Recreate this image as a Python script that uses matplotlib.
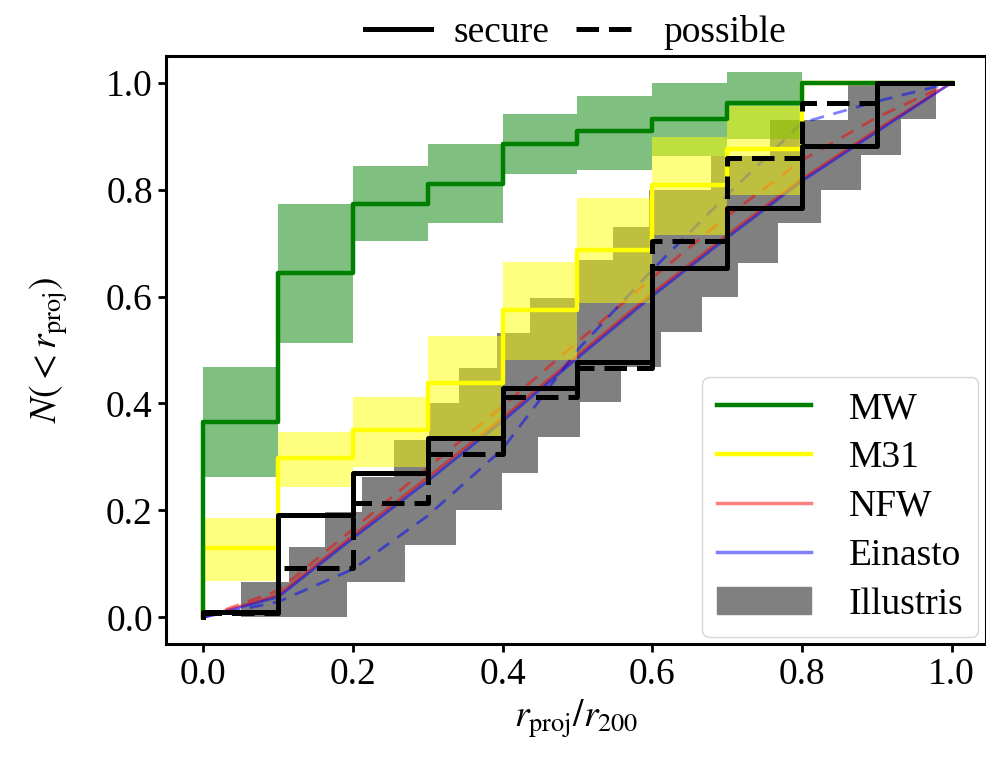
import numpy as np
import matplotlib
matplotlib.use("Agg")
import matplotlib.pyplot as plt
from matplotlib.lines import Line2D
from matplotlib.patches import Patch

plt.rcParams['font.family'] = ['Liberation Serif', 'DejaVu Serif']
plt.rcParams['mathtext.fontset'] = 'stix'

# ---- data ----
bin_edges = [0.0, 0.1, 0.2, 0.3, 0.4, 0.5, 0.6, 0.7, 0.8, 0.9, 1.0]

mw_vals = [0.365, 0.644, 0.773, 0.811, 0.886, 0.910, 0.933, 0.962, 1.0, 1.0]
mw_lo = [0.262, 0.513, 0.704, 0.738, 0.830, 0.836, 0.862, 0.895, 1.0, 1.0]
mw_hi = [0.468, 0.773, 0.845, 0.886, 0.941, 0.976, 1.0, 1.021, 1.0, 1.0]

m31_vals = [0.129, 0.298, 0.350, 0.438, 0.575, 0.687, 0.808, 0.876, 1.0, 1.0]
m31_lo = [0.068, 0.244, 0.281, 0.340, 0.481, 0.588, 0.715, 0.790, 1.0, 1.0]
m31_hi = [0.185, 0.347, 0.413, 0.527, 0.665, 0.784, 0.899, 0.956, 1.0, 1.0]

secure_vals = [0.010, 0.191, 0.269, 0.335, 0.428, 0.478, 0.653, 0.766, 0.881, 1.0]
possible_vals = [0.008, 0.092, 0.213, 0.306, 0.413, 0.466, 0.703, 0.859, 0.962, 1.0]

model_x = [0.0, 0.1, 0.2, 0.3, 0.4, 0.5, 0.6, 0.7, 0.8, 0.9, 1.0]
nfw_secure = [0.0, 0.042, 0.153, 0.262, 0.373, 0.490, 0.606, 0.715, 0.820, 0.912, 1.0]
ein_secure = [0.0, 0.038, 0.148, 0.255, 0.367, 0.485, 0.601, 0.710, 0.816, 0.908, 1.0]
nfw_possible = [0.0, 0.05, 0.165, 0.28, 0.395, 0.515, 0.635, 0.75, 0.855, 0.935, 1.0]
ein_possible = [0.0, 0.029, 0.09, 0.19, 0.315, 0.50, 0.65, 0.79, 0.925, 0.965, 1.0]

illus_up_x = [0.0, 0.05, 0.115, 0.163, 0.212, 0.255, 0.301, 0.341, 0.392, 0.437,
              0.499, 0.548, 0.595, 0.679, 0.757, 0.861]
illus_up_y = [0.0, 0.066, 0.131, 0.197, 0.263, 0.331, 0.400, 0.466, 0.532, 0.597,
              0.668, 0.731, 0.800, 0.862, 0.930, 1.0]
illus_lo_x = [0.0, 0.192, 0.270, 0.337, 0.399, 0.447, 0.503, 0.558, 0.612, 0.666,
              0.715, 0.768, 0.826, 0.879, 0.932, 0.979]
illus_lo_y = [0.0, 0.066, 0.135, 0.200, 0.269, 0.338, 0.403, 0.469, 0.534, 0.600,
              0.663, 0.738, 0.800, 0.865, 0.933, 1.0]

# ---- figure ----
fig = plt.figure(figsize=(9.87, 7.72), dpi=100)
ax = fig.add_axes([166/987, 1 - 644/772, (986-166)/987, (644-56)/772])

fs = 27
dash_black = (0, (4.5, 2.0))
dash_model = (0, (5, 3.5))

# Illustris band
grid = np.unique(np.r_[illus_up_x, illus_lo_x, 1.0])
up = np.asarray(illus_up_y)[np.searchsorted(illus_up_x, grid, side='right') - 1]
lo = np.asarray(illus_lo_y)[np.searchsorted(illus_lo_x, grid, side='right') - 1]
ax.fill_between(grid, lo, up, step='post', color='grey', lw=0, zorder=1)

# model curves
ax.plot(model_x, nfw_secure, color='red', alpha=0.5, lw=2.0, zorder=2)
ax.plot(model_x, ein_secure, color='blue', alpha=0.5, lw=2.0, zorder=2)
ax.plot(model_x, nfw_possible, color='red', alpha=0.5, lw=2.0, ls=dash_model, zorder=2)
ax.plot(model_x, ein_possible, color='blue', alpha=0.5, lw=2.0, ls=dash_model, zorder=2)

# MW / M31 bands
def ext(v):
    return np.r_[v, v[-1]]

ax.fill_between(bin_edges, ext(mw_lo), ext(mw_hi), step='post', color='green', alpha=0.5, lw=0, zorder=3)
ax.fill_between(bin_edges, ext(m31_lo), ext(m31_hi), step='post', color='yellow', alpha=0.5, lw=0, zorder=3)

def step_xy(v):
    return np.r_[0.0, bin_edges], np.r_[0.0, v, v[-1]]

x, y = step_xy(m31_vals)
ax.step(x, y, where='post', color='yellow', lw=3.2, zorder=4)
x, y = step_xy(mw_vals)
ax.step(x, y, where='post', color='green', lw=3.2, zorder=4)
x, y = step_xy(possible_vals)
ax.step(x, y, where='post', color='black', lw=3.6, ls=dash_black, zorder=5)
x, y = step_xy(secure_vals)
ax.step(x, y, where='post', color='black', lw=3.6, zorder=5)

ax.set_xlim(-0.05, 1.046)
ax.set_ylim(-0.05, 1.05)
ax.set_xticks([0.0, 0.2, 0.4, 0.6, 0.8, 1.0])
ax.set_yticks([0.0, 0.2, 0.4, 0.6, 0.8, 1.0])
ax.tick_params(labelsize=fs, width=2, length=6)
for s in ax.spines.values():
    s.set_linewidth(2.2)
ax.set_xlabel(r'$r_{\rm proj}/r_{200}$', fontsize=fs)
ax.set_ylabel(r'$N(<r_{\rm proj})$', fontsize=fs, labelpad=26)

h1 = [Line2D([], [], color='black', lw=3.6), Line2D([], [], color='black', lw=3.6, ls=dash_black)]
leg1 = ax.legend(h1, ['secure', 'possible'], loc='lower center', bbox_to_anchor=(0.5, 0.985),
                 ncol=2, frameon=False, fontsize=fs, handlelength=1.75, columnspacing=0.7,
                 handletextpad=0.6, borderaxespad=0.0)
ax.add_artist(leg1)

h2 = [Line2D([], [], color='green', lw=3.2),
      Line2D([], [], color='yellow', lw=3.2),
      Line2D([], [], color='red', alpha=0.5, lw=2.5),
      Line2D([], [], color='blue', alpha=0.5, lw=2.5),
      Patch(facecolor='grey', edgecolor='grey')]
ax.legend(h2, ['MW', 'M31', 'NFW', 'Einasto', 'Illustris'], loc='lower right',
          fontsize=fs, handlelength=2.5, borderaxespad=0.2, labelspacing=0.38,
          handletextpad=1.0)

fig.savefig('out.png', dpi=100)
